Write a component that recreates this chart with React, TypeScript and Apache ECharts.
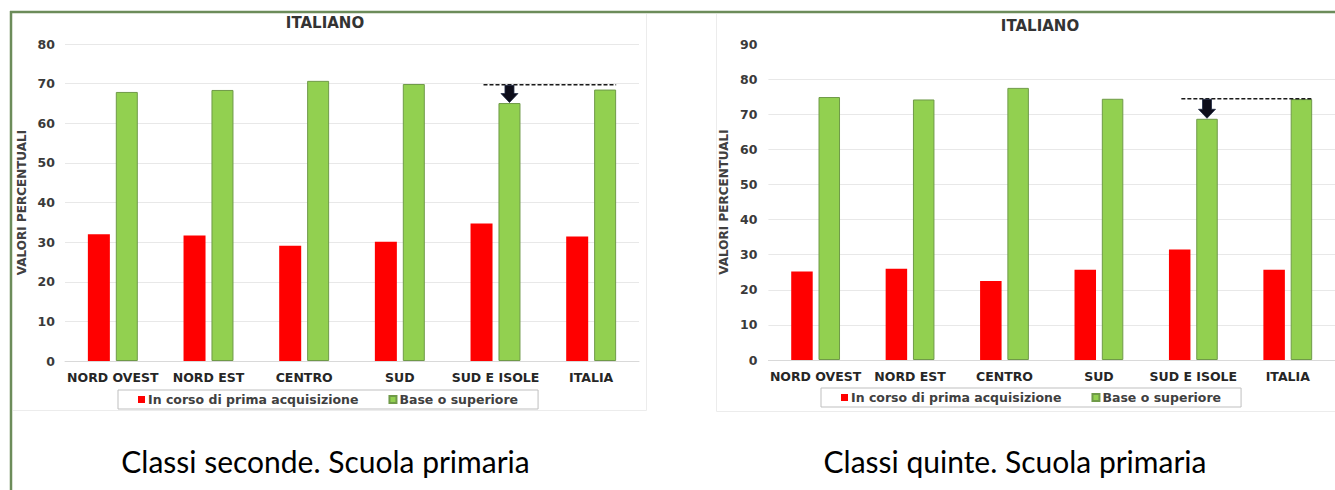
import React, { useEffect, useRef } from "react";
import * as echarts from "echarts";

const categories = ["NORD OVEST", "NORD EST", "CENTRO", "SUD", "SUD E ISOLE", "ITALIA"];
const seriesNames = ["In corso di prima acquisizione", "Base o superiore"];
const secondeInCorso = [32.0, 31.7, 29.1, 30.1, 34.7, 31.4];
const secondeBase = [67.9, 68.4, 70.7, 69.9, 65.1, 68.5];
const quinteInCorso = [25.2, 26.0, 22.5, 25.7, 31.5, 25.7];
const quinteBase = [74.9, 74.2, 77.5, 74.4, 68.7, 74.3];
const referenceLevels = [69.7, 74.4];
const highlightIndex = 4;
const compareIndex = 5;
const yMax = [80, 90];
const yInterval = 10;
const chartTitle = "ITALIANO";
const yAxisName = "VALORI PERCENTUALI";
const subtitles = ["Classi seconde. Scuola primaria", "Classi quinte. Scuola primaria"];

const RED = "#FF0000";
const GREEN = "#92D050";
const FONT = "DejaVu Sans";
const BAR_W = [22, 21.5];
const GAP_RATIO = 0.27;

export default function App() {
  const ref = useRef<HTMLDivElement>(null);
  useEffect(() => {
    document.body.style.margin = "0";
    const chart = echarts.init(ref.current!, null, { renderer: "svg" });
    const grids = [
      { left: 65, top: 44, width: 574, height: 317 },
      { left: 768.4, top: 44, width: 572, height: 316 },
    ];
    const dataSets = [
      [secondeInCorso, secondeBase],
      [quinteInCorso, quinteBase],
    ];
    const series: any[] = [];
    dataSets.forEach((pair, gi) => {
      pair.forEach((vals, si) => {
        series.push({
          type: "bar",
          name: seriesNames[si],
          xAxisIndex: gi,
          yAxisIndex: gi,
          data: vals,
          barWidth: BAR_W[gi],
          barGap: GAP_RATIO * 100 + "%",
          itemStyle:
            si === 0
              ? { color: RED }
              : { color: GREEN, borderColor: "#6f9a48", borderWidth: 1 },
        });
      });
    });
    const titleCenters = [
      { x: 325, y: 24 },
      { x: 1040, y: 27 },
    ];
    const legendPos = [
      { left: 118, top: 390 },
      { left: 821, top: 388 },
    ];
    const option: any = {
      animation: false,
      backgroundColor: "#ffffff",
      title: titleCenters.map((t) => ({
        text: chartTitle,
        left: t.x,
        top: t.y - 9,
        textAlign: "center",
        padding: 0,
        textStyle: { fontFamily: FONT, fontWeight: "bold", fontSize: 15, color: "#333333" },
      })),
      legend: legendPos.map((l) => ({
        left: l.left,
        top: l.top,
        data: seriesNames,
        icon: "rect",
        itemWidth: 7,
        itemHeight: 7,
        itemGap: 30,
        selectedMode: false,
        borderColor: "#bfbfbf",
        borderWidth: 1,
        padding: [3, 20],
        textStyle: { fontFamily: FONT, fontWeight: "bold", fontSize: 12.5, color: "#404040", padding: [0, 0, 0, -2] },
      })),
      grid: grids,
      xAxis: grids.map((_, gi) => ({
        type: "category",
        gridIndex: gi,
        data: categories,
        axisTick: { show: false },
        axisLine: { lineStyle: { color: "#d9d9d9" } },
        axisLabel: {
          interval: 0,
          margin: 10,
          fontFamily: FONT,
          fontWeight: "bold",
          fontSize: 12.5,
          color: "#262626",
        },
      })),
      yAxis: grids.map((_, gi) => ({
        type: "value",
        gridIndex: gi,
        min: 0,
        max: yMax[gi],
        interval: yInterval,
        name: yAxisName,
        nameLocation: "middle",
        nameGap: gi === 0 ? 37 : 38,
        nameTextStyle: { fontFamily: FONT, fontWeight: "bold", fontSize: 12, color: "#404040" },
        axisLine: { show: false },
        axisTick: { show: false },
        splitLine: { show: true, showMaxLine: gi === 0, lineStyle: { color: "#e8e8e8" } },
        axisLabel: {
          margin: gi === 0 ? 10 : 11,
          fontFamily: FONT,
          fontWeight: "bold",
          fontSize: 12.5,
          color: "#3a3a3a",
        },
      })),
      series,
    };
    chart.setOption(option);

    const elements: any[] = [];
    elements.push({
      type: "line",
      shape: { x1: 10, y1: 12, x2: 1335, y2: 12 },
      style: { stroke: "#6c8c5a", lineWidth: 2.5 },
      z: 10,
    });
    elements.push({
      type: "line",
      shape: { x1: 11, y1: 11, x2: 11, y2: 490 },
      style: { stroke: "#6c8c5a", lineWidth: 2.5 },
      z: 10,
    });
    const faint = { stroke: "#ececec", lineWidth: 1 };
    elements.push({ type: "line", shape: { x1: 646.5, y1: 14, x2: 646.5, y2: 410.5 }, style: faint });
    elements.push({ type: "line", shape: { x1: 13, y1: 410.5, x2: 646.5, y2: 410.5 }, style: faint });
    elements.push({ type: "line", shape: { x1: 716.5, y1: 14, x2: 716.5, y2: 411.5 }, style: faint });
    elements.push({ type: "line", shape: { x1: 716.5, y1: 411.5, x2: 1335, y2: 411.5 }, style: faint });

    const subCenters = [325.5, 1015];
    subtitles.forEach((s, i) => {
      elements.push({
        type: "text",
        style: {
          text: s,
          x: subCenters[i],
          y: 461,
          align: "center",
          verticalAlign: "middle",
          fontFamily: "Lato",
          fontSize: 30,
          fill: "#000000",
        },
      });
    });

    dataSets.forEach((pair, gi) => {
      const bw = BAR_W[gi];
      const half = (bw + bw * GAP_RATIO) / 2;
      const px = (cat: number, val: number) =>
        chart.convertToPixel({ gridIndex: gi } as any, [cat, val]) as number[];
      const refPt = px(highlightIndex, referenceLevels[gi]);
      const endPt = px(compareIndex, referenceLevels[gi]);
      const x1 = refPt[0] - 12;
      const x2 = endPt[0] + half + bw / 2;
      elements.push({
        type: "line",
        shape: { x1, y1: refPt[1], x2, y2: refPt[1] },
        style: { stroke: "#1a1a1a", lineWidth: 1.6, lineDash: [4, 2] },
        z: 20,
      });
      const barTop = px(highlightIndex, pair[1][highlightIndex]);
      const cx = barTop[0] + half;
      const yTop = refPt[1] + 0.5;
      const yTip = barTop[1] - 0.5;
      const headH = 9;
      const sw = 4.5;
      const hw = 8.5;
      elements.push({
        type: "polygon",
        shape: {
          points: [
            [cx - sw, yTop],
            [cx + sw, yTop],
            [cx + sw, yTip - headH],
            [cx + hw, yTip - headH],
            [cx, yTip],
            [cx - hw, yTip - headH],
            [cx - sw, yTip - headH],
          ],
        },
        style: { fill: "#0d0d1a", stroke: "#1f2a44", lineWidth: 0.8 },
        z: 21,
      });
    });

    chart.setOption({ graphic: { elements } });
    return () => chart.dispose();
  }, []);
  return <div ref={ref} style={{ width: 1335, height: 490 }} />;
}
